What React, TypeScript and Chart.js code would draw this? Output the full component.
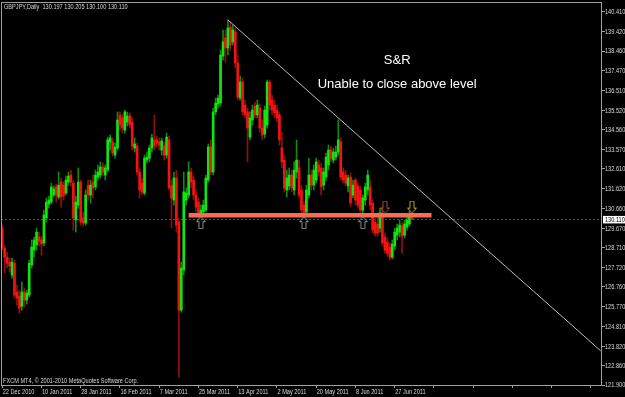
import React, { useEffect, useRef } from 'react';
import { Chart, registerables } from 'chart.js';
Chart.register(...registerables);

const symbolTitle = 'GBPJPY,Daily  130.197 130.205 130.100 130.110';
const copyright = 'FXCM MT4, \u00A9 2001-2010 MetaQuotes Software Corp.';
const srText = 'S&R';
const noteText = 'Unable to close above level';

const dateLabels = ['22 Dec 2010', '10 Jan 2011', '28 Jan 2011', '16 Feb 2011', '7 Mar 2011', '25 Mar 2011', '13 Apr 2011', '2 May 2011', '20 May 2011', '8 Jun 2011', '27 Jun 2011'];
const barsPerLabel = 16;
const slotCount = 245;

const yTickValues = [140.41, 139.42, 138.46, 137.47, 136.51, 135.52, 134.56, 133.57, 132.61, 131.62, 130.66, 129.67, 128.71, 127.72, 126.76, 125.77, 124.81, 123.82, 122.86, 121.9];
const yMin = 121.9;
const yMax = 140.89;

const opens = [
  129.68, 128.69, 128.24, 127.99, 127.35, 127.94, 126.51, 126.31, 125.81, 126.51,
  126.11, 126.36, 127.85, 128.59, 128.84, 129.24, 129.09, 128.94, 130.18, 130.87,
  130.97, 131.32, 131.72, 131.22, 131.96, 131.81, 131.42, 131.96, 132.31, 131.91,
  130.08, 130.82, 131.96, 130.18, 129.93, 131.81, 131.32, 131.96, 131.72, 132.21,
  132.31, 132.71, 132.31, 132.56, 133.95, 133.95, 133.30, 133.65, 135.29, 135.14,
  134.54, 134.94, 135.24, 134.94, 133.65, 133.75, 132.46, 131.91, 131.42, 133.05,
  133.15, 133.65, 134.05, 134.05, 133.95, 133.55, 133.75, 133.30, 134.05, 131.77,
  131.07, 132.16, 129.98, 125.61, 127.60, 131.07, 131.32, 132.46, 132.06, 131.32,
  130.97, 130.43, 130.48, 130.57, 132.06, 133.70, 132.46, 135.44, 135.83, 135.88,
  138.21, 139.11, 138.61, 139.65, 138.91, 139.40, 137.86, 136.13, 136.92, 135.78,
  135.44, 134.19, 135.04, 135.73, 135.29, 135.63, 134.64, 134.34, 134.79, 136.92,
  136.03, 135.78, 135.53, 135.29, 133.65, 133.05, 131.57, 131.77, 132.31, 131.57,
  132.46, 132.66, 131.57, 130.82, 130.48, 131.32, 132.31, 131.81, 132.06, 132.81,
  132.66, 131.81, 132.21, 132.81, 133.55, 133.05, 133.20, 133.45, 133.95, 132.46,
  132.31, 131.77, 132.21, 131.32, 132.06, 131.77, 131.57, 130.57, 131.07, 131.57,
  131.72, 130.92, 129.98, 129.88, 129.68, 130.43, 129.24, 128.99, 128.74, 128.24,
  128.79, 129.33, 129.48, 129.78, 129.33, 129.73, 129.88, 130.197
];
const highs = [
  129.83, 128.84, 128.49, 128.19, 128.19, 128.09, 126.85, 126.61, 127.00, 126.71,
  126.61, 128.09, 129.09, 129.24, 129.68, 129.48, 129.28, 130.57, 131.17, 131.27,
  131.91, 131.77, 131.86, 132.46, 132.16, 131.96, 132.26, 132.46, 132.56, 132.06,
  131.27, 132.66, 132.06, 130.48, 131.57, 132.06, 132.06, 132.31, 132.56, 132.81,
  132.96, 132.91, 132.81, 134.19, 134.29, 134.15, 133.90, 135.44, 135.44, 135.29,
  135.53, 135.44, 135.39, 135.14, 134.15, 133.90, 132.66, 132.16, 133.30, 133.45,
  133.80, 134.34, 135.29, 134.24, 134.15, 134.15, 133.95, 134.39, 134.24, 132.06,
  132.46, 132.56, 130.18, 127.99, 132.46, 131.67, 132.96, 132.66, 132.26, 131.57,
  131.17, 130.82, 131.07, 132.31, 133.85, 134.05, 135.63, 136.13, 136.28, 138.51,
  139.50, 139.50, 140.00, 139.90, 139.75, 139.60, 138.26, 137.22, 137.12, 136.03,
  135.63, 135.44, 135.78, 135.93, 136.03, 135.83, 135.04, 135.73, 137.02, 137.02,
  136.28, 136.03, 135.78, 135.44, 134.44, 133.30, 132.56, 132.66, 132.56, 132.96,
  134.05, 133.05, 131.81, 130.97, 131.81, 133.15, 132.56, 132.81, 133.15, 133.05,
  132.91, 132.66, 133.40, 133.80, 133.75, 133.65, 133.75, 135.04, 134.15, 132.66,
  132.56, 132.31, 132.41, 132.06, 132.16, 131.91, 131.77, 131.32, 131.91, 132.56,
  132.06, 131.07, 130.18, 130.33, 130.67, 130.72, 129.43, 129.19, 128.94, 129.09,
  129.68, 129.88, 130.08, 129.98, 130.08, 130.28, 130.52, 130.205
];
const lows = [
  128.59, 127.45, 127.70, 127.50, 127.20, 126.21, 125.86, 125.46, 125.61, 125.76,
  125.91, 126.26, 127.70, 128.24, 128.59, 128.79, 128.34, 128.79, 129.98, 130.67,
  130.87, 131.22, 130.97, 131.12, 130.72, 131.07, 131.32, 131.81, 131.77, 129.58,
  129.48, 130.67, 129.83, 129.78, 129.83, 131.07, 130.92, 131.17, 131.57, 132.06,
  132.16, 132.26, 132.06, 132.46, 133.55, 133.25, 133.15, 133.55, 134.54, 134.39,
  134.39, 134.74, 134.64, 133.55, 133.45, 132.31, 131.17, 131.32, 131.32, 132.91,
  132.96, 133.45, 133.55, 133.70, 133.55, 133.30, 133.05, 133.15, 131.57, 129.68,
  130.82, 129.48, 122.29, 125.51, 127.35, 130.82, 131.17, 131.67, 131.07, 130.48,
  130.18, 130.23, 130.28, 130.48, 131.96, 132.31, 132.31, 135.29, 135.63, 135.73,
  138.01, 137.91, 138.26, 138.51, 138.76, 137.62, 136.03, 136.03, 135.29, 135.14,
  132.96, 134.05, 134.79, 135.14, 135.14, 134.44, 134.05, 134.15, 134.64, 135.53,
  135.29, 135.14, 134.94, 133.80, 132.66, 131.47, 131.22, 131.57, 131.47, 131.32,
  132.16, 131.17, 130.33, 130.18, 130.33, 131.17, 131.57, 131.57, 131.91, 132.26,
  131.32, 131.57, 132.06, 132.56, 132.96, 132.91, 133.05, 133.30, 132.06, 131.91,
  131.77, 131.47, 130.77, 131.17, 130.82, 130.67, 130.43, 130.38, 130.82, 131.32,
  130.57, 129.43, 129.28, 129.28, 129.48, 128.79, 128.44, 128.29, 128.09, 128.14,
  128.59, 129.09, 129.24, 128.44, 129.19, 129.58, 129.78, 130.100
];
const closes = [
  128.69, 128.24, 127.94, 127.80, 127.99, 126.36, 126.21, 125.71, 126.51, 126.11,
  126.46, 127.94, 128.74, 129.09, 129.48, 129.04, 128.89, 130.33, 130.97, 131.07,
  131.72, 131.62, 131.32, 131.81, 131.22, 131.27, 132.06, 132.26, 131.96, 130.18,
  130.97, 131.96, 129.98, 129.93, 131.32, 131.32, 131.81, 131.67, 132.31, 132.46,
  132.71, 132.46, 132.66, 134.05, 134.15, 133.40, 133.70, 135.04, 134.79, 134.64,
  135.44, 135.24, 134.79, 133.75, 133.85, 132.46, 131.57, 131.47, 133.15, 133.20,
  133.65, 134.15, 133.75, 133.90, 133.80, 134.00, 133.30, 134.19, 131.67, 131.17,
  132.16, 129.83, 125.61, 127.70, 131.47, 131.42, 132.46, 131.96, 131.32, 130.72,
  130.43, 130.57, 130.82, 132.16, 133.70, 132.46, 135.44, 135.88, 136.13, 138.26,
  138.91, 138.61, 139.60, 138.76, 139.50, 137.86, 136.18, 136.92, 135.44, 135.29,
  134.64, 135.14, 135.53, 135.29, 135.78, 134.64, 134.29, 135.53, 136.92, 135.78,
  135.53, 135.39, 135.14, 134.05, 132.96, 131.67, 132.16, 132.31, 131.67, 132.56,
  133.05, 131.32, 130.57, 130.38, 131.57, 132.31, 131.81, 132.56, 132.96, 132.46,
  131.72, 132.46, 133.20, 133.55, 133.15, 133.45, 133.45, 134.05, 132.21, 132.06,
  131.91, 132.16, 130.92, 131.81, 131.07, 130.82, 130.57, 131.17, 131.72, 132.31,
  130.82, 129.58, 129.43, 129.43, 130.43, 128.94, 128.59, 128.44, 128.24, 128.89,
  129.48, 129.68, 129.83, 129.28, 129.88, 130.08, 130.23, 130.110
];

const bidPrice = 130.11;
const levelIdx = [76, 175];
const levelPrice = 130.32;
const trendIdx = [92, 244];
const trendPrices = [140.0, 123.59];
const upArrowIdx = [81, 123, 147];
const upArrowPrice = 129.95;
const downArrowIdx = [156, 167];
const downArrowPrice = 130.72;
const downArrowColors = ['#a8522f', '#b8ad1c'];
const noteAnchorIdx = 161;
const srPrice = 138.01;
const notePrice = 136.82;

const axisFont = "'Liberation Sans', Arial, sans-serif";
const axisTextColor = '#d8d8d8';

function makeArrow(color: string, up: boolean) {
  const c = document.createElement('canvas');
  c.width = 10;
  c.height = 13;
  const g = c.getContext('2d')!;
  g.strokeStyle = color;
  g.lineWidth = 1;
  const pts = [[5, 0.5], [9.5, 5.5], [7, 5.5], [7, 12.5], [3, 12.5], [3, 5.5], [0.5, 5.5]];
  g.beginPath();
  pts.forEach(([x, y], k) => {
    const yy = up ? y : 13 - y;
    if (k) g.lineTo(x, yy); else g.moveTo(x, yy);
  });
  g.closePath();
  g.stroke();
  return c;
}

function sparse(idx: number[], vals: number[]) {
  const arr: (number | null)[] = new Array(slotCount).fill(null);
  idx.forEach((ix, k) => { arr[ix] = vals[k]; });
  return arr;
}

export default function App() {
  const ref = useRef<HTMLCanvasElement | null>(null);
  useEffect(() => {
    document.body.style.margin = '0';
    document.body.style.background = '#000';
    const canvas = ref.current!;
    const n = opens.length;
    const labels = Array.from({ length: slotCount }, (_, i) => 's' + i);
    const wickData = labels.map((_, i) => (i < n ? [lows[i], highs[i]] : null));
    const bodyData = labels.map((_, i) => (i < n ? [opens[i], closes[i]] : null));
    const up = (i: number) => closes[i] >= opens[i];
    const upImg = makeArrow('#84958c', true);
    const downImgs = downArrowColors.map((c) => makeArrow(c, false));

    const narrowText = (ctx: CanvasRenderingContext2D, text: string, x: number, y: number) => {
      ctx.save();
      ctx.translate(x, y);
      ctx.scale(0.8, 1);
      ctx.fillText(text, 0, 0);
      ctx.restore();
    };

    const mtPlugin = {
      id: 'mt',
      beforeDraw(chart: any) {
        const { ctx, width, height } = chart;
        ctx.save();
        ctx.fillStyle = '#000';
        ctx.fillRect(0, 0, width, height);
        ctx.restore();
      },
      beforeDatasetsDraw(chart: any) {
        const { ctx, chartArea: a, scales } = chart;
        const py = Math.round(scales.y.getPixelForValue(bidPrice)) + 0.5;
        ctx.save();
        ctx.strokeStyle = '#4c575c';
        ctx.lineWidth = 1;
        ctx.setLineDash([2, 2]);
        ctx.beginPath();
        ctx.moveTo(a.left, py);
        ctx.lineTo(a.right, py);
        ctx.stroke();
        ctx.restore();
      },
      afterDraw(chart: any) {
        const { ctx, chartArea: a, scales } = chart;
        ctx.save();
        ctx.strokeStyle = '#a0a0a0';
        ctx.lineWidth = 1;
        ctx.strokeRect(Math.floor(a.left) + 0.5, Math.floor(a.top) + 0.5, Math.round(a.right - a.left) - 1, Math.round(a.bottom - a.top));
        ctx.fillStyle = axisTextColor;
        ctx.font = `7px ${axisFont}`;
        ctx.textBaseline = 'middle';
        ctx.textAlign = 'left';
        narrowText(ctx, symbolTitle, a.left + 3, a.top + 5);
        narrowText(ctx, copyright, a.left + 2, a.bottom - 4);
        dateLabels.forEach((lab, k) => {
          const px = scales.x.getPixelForValue(k * barsPerLabel);
          narrowText(ctx, lab, px + 0.5, a.bottom + 7.5);
        });
        yTickValues.forEach((v) => {
          const py = scales.y.getPixelForValue(v);
          narrowText(ctx, v.toFixed(3), a.right + 3, py + 0.5);
        });
        const by = scales.y.getPixelForValue(bidPrice);
        ctx.fillStyle = '#ffffff';
        ctx.fillRect(a.right + 1, by - 3.5, 23, 7.5);
        ctx.fillStyle = '#000000';
        narrowText(ctx, bidPrice.toFixed(3), a.right + 3, by + 0.5);
        ctx.fillStyle = '#ffffff';
        ctx.font = '13px "Liberation Sans", Arial, sans-serif';
        ctx.textAlign = 'center';
        const tx = scales.x.getPixelForValue(noteAnchorIdx);
        ctx.fillText(srText, tx, scales.y.getPixelForValue(srPrice));
        ctx.fillText(noteText, tx, scales.y.getPixelForValue(notePrice));
        ctx.restore();
      },
    };

    const chart = new Chart(canvas, {
      type: 'bar',
      data: {
        labels,
        datasets: [
          {
            type: 'bar',
            data: wickData as any,
            backgroundColor: (c: any) => (c.dataIndex < n && up(c.dataIndex) ? '#128a12' : '#901010'),
            barThickness: 1,
            grouped: false,
            borderWidth: 0,
            borderSkipped: false,
            order: 5,
          } as any,
          {
            type: 'bar',
            data: bodyData as any,
            backgroundColor: (c: any) => (c.dataIndex < n && up(c.dataIndex) ? '#12e412' : '#f51212'),
            barThickness: 2,
            grouped: false,
            borderWidth: 0,
            borderSkipped: false,
            minBarLength: 1,
            order: 4,
          } as any,
          {
            type: 'line',
            data: sparse(trendIdx, trendPrices),
            borderColor: '#bcbcbc',
            borderWidth: 1,
            pointRadius: 0,
            spanGaps: true,
            order: 3,
          } as any,
          {
            type: 'line',
            data: sparse(levelIdx, [levelPrice, levelPrice]),
            borderColor: '#f86c56',
            borderWidth: 4.5,
            borderCapStyle: 'butt',
            pointRadius: 0,
            spanGaps: true,
            order: 2,
          } as any,
          {
            type: 'line',
            data: sparse(upArrowIdx, upArrowIdx.map(() => upArrowPrice)),
            showLine: false,
            pointStyle: upImg,
            pointRadius: 6,
            order: 1,
          } as any,
          {
            type: 'line',
            data: sparse([downArrowIdx[0]], [downArrowPrice]),
            showLine: false,
            pointStyle: downImgs[0],
            pointRadius: 6,
            order: 1,
          } as any,
          {
            type: 'line',
            data: sparse([downArrowIdx[1]], [downArrowPrice]),
            showLine: false,
            pointStyle: downImgs[1],
            pointRadius: 6,
            order: 1,
          } as any,
        ],
      },
      options: {
        animation: false,
        responsive: false,
        devicePixelRatio: 1,
        layout: { autoPadding: false, padding: { left: 1, top: 2, right: 0, bottom: 0 } },
        plugins: { legend: { display: false }, tooltip: { enabled: false } },
        scales: {
          x: {
            type: 'category',
            offset: true,
            grid: {
              offset: false,
              drawOnChartArea: false,
              drawTicks: true,
              tickLength: 3,
              tickColor: (c: any) => (c.index % barsPerLabel === 0 ? '#a0a0a0' : 'rgba(0,0,0,0)'),
            },
            border: { display: false },
            ticks: {
              autoSkip: false,
              maxRotation: 0,
              minRotation: 0,
              align: 'start',
              padding: 0,
              color: 'rgba(0,0,0,0)',
              font: { size: 7, family: axisFont },
              callback: () => '',
            },
            afterFit: (s: any) => { s.height = 12; s.paddingLeft = 0; s.paddingRight = 0; },
          } as any,
          y: {
            position: 'right',
            min: yMin,
            max: yMax,
            grid: { drawOnChartArea: false, drawTicks: true, tickLength: 3, tickColor: '#a0a0a0' },
            border: { display: false },
            afterBuildTicks: (s: any) => { s.ticks = yTickValues.map((v) => ({ value: v })); },
            ticks: {
              padding: 0,
              color: 'rgba(0,0,0,0)',
              font: { size: 7, family: axisFont },
              callback: (v: any) => Number(v).toFixed(3),
            },
            afterFit: (s: any) => { s.width = 23; s.paddingTop = 0; s.paddingBottom = 0; },
          } as any,
        },
      },
      plugins: [mtPlugin],
    });
    return () => chart.destroy();
  }, []);
  return <canvas ref={ref} width={625} height={397} style={{ display: 'block' }} />;
}
